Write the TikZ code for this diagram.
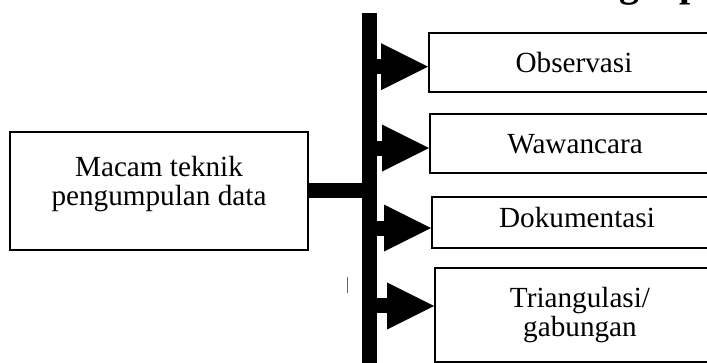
\documentclass[tikz,border=0pt]{standalone}
\usepackage{fontspec}
\setmainfont{Liberation Serif}
\usetikzlibrary{arrows.meta, positioning}

\begin{document}
\begin{tikzpicture}[x=0.5pt, y=-0.5pt]
	\tikzstyle{box}=[rectangle, draw=black, line width=1pt, minimum width=145pt, align=center, font=\fontsize{14.6}{14.3}\selectfont]
	\tikzstyle{bar}=[rectangle, fill=black, minimum width=7.5pt, minimum height=178pt, inner sep=0pt]
	\tikzstyle{stem}=[line width=7.5pt]
	\tikzstyle{branch}=[line width=7.5pt, -{Triangle[length=23.5pt, width=23.5pt, line width=0pt]}]
	\tikzstyle{headline}=[font=\fontsize{20}{24}\selectfont\bfseries, inner sep=0pt, anchor=base west]
	\useasboundingbox (0,0) rectangle (707,363);
	\clip (0,0) rectangle (707,363);
	\node[box, minimum width=149pt, minimum height=59pt, text depth=10pt] (src) at (159,191) {Macam teknik\\pengumpulan data};
	\node[bar] (bar) at (369.5,191) {};
	\node[box, minimum height=29.3pt] (obs) at (574,62.7) {Observasi};
	\node[box, minimum height=29.7pt] (waw) at (575,143.7) {Wawancara};
	\node[box, minimum height=25.7pt, text depth=5pt] (dok) at (577,222.7) {Dokumentasi};
	\node[box, minimum height=47pt] (tri) at (580,315) {Triangulasi/\\gabungan};
	% where the arrow tips meet the boxes
	\coordinate (obs-in) at ([yshift=-2pt]obs.west);
	\coordinate (waw-in) at ([yshift=-2.2pt]waw.west);
	\coordinate (dok-in) at ([yshift=-2.7pt]dok.west);
	\coordinate (tri-in) at ([yshift=4.5pt]tri.west);
	\path (src) edge [stem] (bar)
	(bar.east |- obs-in) edge [branch] (obs-in)
	(bar.east |- waw-in) edge [branch] (waw-in)
	(bar.east |- dok-in) edge [branch] (dok-in)
	(bar.east |- tri-in) edge [branch] (tri-in);
	% stray tick left of the bar
	\draw[black!60, line width=0.5pt] (347,277) -- (347,293);
	% tail of the heading line above
	\node[headline] (head) at (619,-3.6) {g\quad p};
\end{tikzpicture}
\end{document}
